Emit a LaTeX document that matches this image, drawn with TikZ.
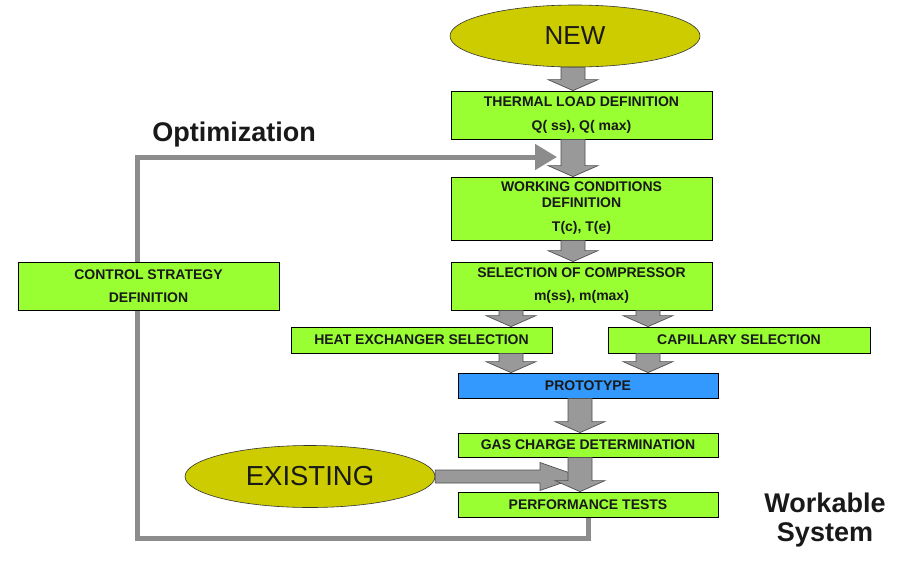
\documentclass[tikz,border=0pt]{standalone}
\usepackage{fontspec}
\setmainfont{Liberation Sans}
\usetikzlibrary{shapes.geometric,arrows.meta,calc,backgrounds}
\definecolor{boxgreen}{HTML}{99FF33}
\definecolor{protoblue}{HTML}{3399FF}
\definecolor{ovalyellow}{HTML}{CCCC00}
\definecolor{arrgray}{HTML}{999999}
\definecolor{arredge}{HTML}{505050}
\definecolor{loopgray}{HTML}{8C8C8C}
\tikzset{
 box/.style={draw=black, line width=0.8pt, fill=boxgreen, rectangle, inner sep=0pt, align=center,
   font=\fontsize{14}{16}\selectfont\bfseries, text=black!90},
 oval/.style={ellipse, draw=black!80, line width=0.6pt, fill=ovalyellow, minimum width=250pt,
   minimum height=62pt, inner sep=0pt, font=\fontsize{26}{30}\selectfont, text=black!90},
 blockarr/.style={fill=arrgray, draw=arredge, line width=0.7pt, line join=miter},
 loopline/.style={draw=loopgray, line width=5pt},
 biglabel/.style={font=\fontsize{27}{29}\selectfont\bfseries, align=center, text=black!90}
}
\newcommand\blkdown[3]{%
 \path[blockarr] let \p1=(#2.south), \p2=(#3.north) in
 (#1pt-12pt,\y1) -- (#1pt+12pt,\y1) -- (#1pt+12pt,\y2+11pt) -- (#1pt+25pt,\y2+11pt)
 -- (#1pt,\y2) -- (#1pt-25pt,\y2+11pt) -- (#1pt-12pt,\y2+11pt) -- cycle;}
\begin{document}
\begin{tikzpicture}[x=1pt,y=-1pt]
\useasboundingbox (0,0) rectangle (909,568);

\node[oval] (new) at (575,36) {NEW};
\node[oval, font=\fontsize{27.5}{30}\selectfont] (existing) at (310,476.5) {EXISTING};

\node[box, minimum width=261pt, minimum height=48pt] (thermal) at (581.5,115)
  {THERMAL LOAD DEFINITION\\[8pt]Q( ss), Q( max)};
\node[box, minimum width=261pt, minimum height=63pt] (working) at (581.5,208.5)
  {WORKING CONDITIONS\\DEFINITION\\[8pt]T(c), T(e)};
\node[box, minimum width=261pt, minimum height=48pt] (compressor) at (581.5,286)
  {SELECTION OF COMPRESSOR\\[7pt]m(ss), m(max)};
\node[box, minimum width=261pt, minimum height=26pt] (hx) at (421.5,340)
  {HEAT EXCHANGER SELECTION};
\node[box, minimum width=262pt, minimum height=26pt] (cap) at (739,340)
  {CAPILLARY SELECTION};
\node[box, fill=protoblue, minimum width=260pt, minimum height=25pt] (proto) at (588,385.5)
  {PROTOTYPE};
\node[box, minimum width=260pt, minimum height=24pt] (gas) at (588,445)
  {GAS CHARGE DETERMINATION};
\node[box, minimum width=260pt, minimum height=25pt] (perf) at (588,504.5)
  {PERFORMANCE TESTS};
\node[box, minimum width=261pt, minimum height=48pt] (control) at (148.5,286)
  {CONTROL STRATEGY\\[7pt]DEFINITION};

\node[biglabel] (opt) at (234,135) {Optimization};
\node[biglabel] (workable) at (825,520) {Workable\\System};

\coordinate (lc1) at (137,538);
\coordinate (looptip) at (557,157);
\begin{scope}[on background layer]
\fill[white] (0,0) rectangle (909,568);
\draw[loopline, -{Triangle[length=22pt,width=25pt]}] (perf.south) |- (lc1) |- (looptip);
\end{scope}

\blkdown{573}{new}{thermal}
\blkdown{573}{thermal}{working}
\blkdown{573}{working}{compressor}
\blkdown{511}{compressor}{hx}
\blkdown{648}{compressor}{cap}
\blkdown{511}{hx}{proto}
\blkdown{648}{cap}{proto}
\blkdown{580}{proto}{gas}

\coordinate (extip) at (580,476);
\path[blockarr] let \p1=(existing.east), \p2=(extip) in
 (\x1,\y1+6.5pt) -- (\x2-40pt,\y1+6.5pt) -- (\x2-40pt,\y1+14pt) -- (\x2,\y1)
 -- (\x2-40pt,\y1-14pt) -- (\x2-40pt,\y1-6.5pt) -- (\x1,\y1-6.5pt) -- cycle;

\blkdown{580}{gas}{perf}
\end{tikzpicture}
\end{document}
